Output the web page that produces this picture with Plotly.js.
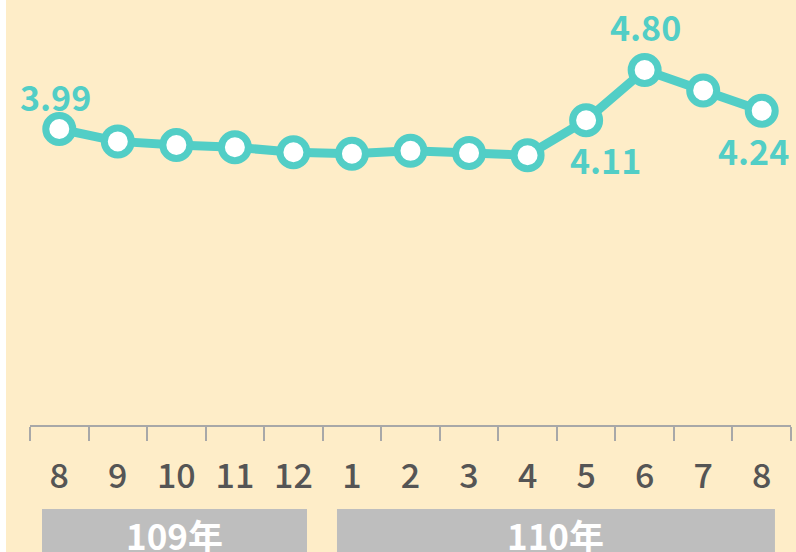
<!DOCTYPE html>
<html>
<head>
<meta charset="utf-8">
<script src="https://cdn.plot.ly/plotly-3.0.1.min.js"></script>
<style>
html,body{margin:0;padding:0;background:#ffffff;}
#wrap{position:absolute;left:6px;top:0;width:790px;height:552px;}
</style>
</head>
<body>
<div id="wrap"></div>
<script>
// data
const months = ["8","9","10","11","12","1","2","3","4","5","6","7","8"];
const values = [3.99, 3.82, 3.77, 3.74, 3.67, 3.65, 3.69, 3.66, 3.63, 4.11, 4.80, 4.52, 4.24];
const labelIdx = [0, 9, 10, 12];
const years = ["109年", "110年"];
const yearStart = [0, 5];
const yearEnd = [4, 12];

const teal = "#52CEC6";
const cream = "#FEEDC8";
const xs = months.map((m, i) => i);

// label offsets (style)
const labelOffsets = {0: [-4, -33], 9: [19, 39], 10: [1, -44], 12: [-8, 40]};

const annotations = labelIdx.map(i => ({
  x: xs[i], y: values[i], xref: "x", yref: "y",
  text: values[i].toFixed(2), showarrow: false,
  xshift: labelOffsets[i][0], yshift: -labelOffsets[i][1],
  font: {family: "Noto Sans CJK TC, Noto Sans", size: 34, color: teal, weight: "bold"}
}));

const shapes = [];
const boxPad = [[-0.295, 0.232], [-0.256, 0.226]];
years.forEach((yr, k) => {
  const x0 = yearStart[k] + boxPad[k][0];
  const x1 = yearEnd[k] + boxPad[k][1];
  shapes.push({type: "rect", xref: "x", yref: "paper", x0: x0, x1: x1,
    y0: -0.1976, y1: -0.31, fillcolor: "#BEBEBE", line: {width: 0}, layer: "above"});
  annotations.push({x: (x0 + x1) / 2, y: -0.257, xref: "x", yref: "paper",
    text: yr, showarrow: false, yanchor: "middle",
    font: {family: "Noto Sans CJK TC", size: 35, color: "#ffffff", weight: "bold"}});
});

const trace = {
  x: xs, y: values, type: "scatter", mode: "lines+markers",
  line: {color: teal, width: 9},
  marker: {size: 27, color: "#ffffff", line: {color: teal, width: 7}},
  cliponaxis: false, hoverinfo: "skip"
};

const layout = {
  width: 790, height: 552,
  margin: {l: 24, r: 5, t: 0, b: 127},
  paper_bgcolor: cream, plot_bgcolor: cream,
  showlegend: false,
  xaxis: {
    range: [-0.5, 12.5], tickmode: "array", tickvals: xs, ticktext: months,
    showgrid: false, zeroline: false, showline: true, linecolor: "#A8A8A8", linewidth: 2,
    ticks: "outside", ticklen: 14, tickcolor: "rgba(0,0,0,0)", ticklabelstandoff: 6,
    minor: {tickmode: "linear", tick0: 0.5, dtick: 1, ticks: "outside", ticklen: 14, tickwidth: 2, tickcolor: "#A8A8A8", showgrid: false},
    tickfont: {family: "Noto Sans CJK TC", size: 34, color: "#555555", weight: 500},
    fixedrange: true
  },
  yaxis: {range: [-0.076, 5.762], visible: false, fixedrange: true},
  shapes: shapes,
  annotations: annotations
};

Plotly.newPlot("wrap", [trace], layout, {staticPlot: true, displayModeBar: false});
</script>
</body>
</html>
